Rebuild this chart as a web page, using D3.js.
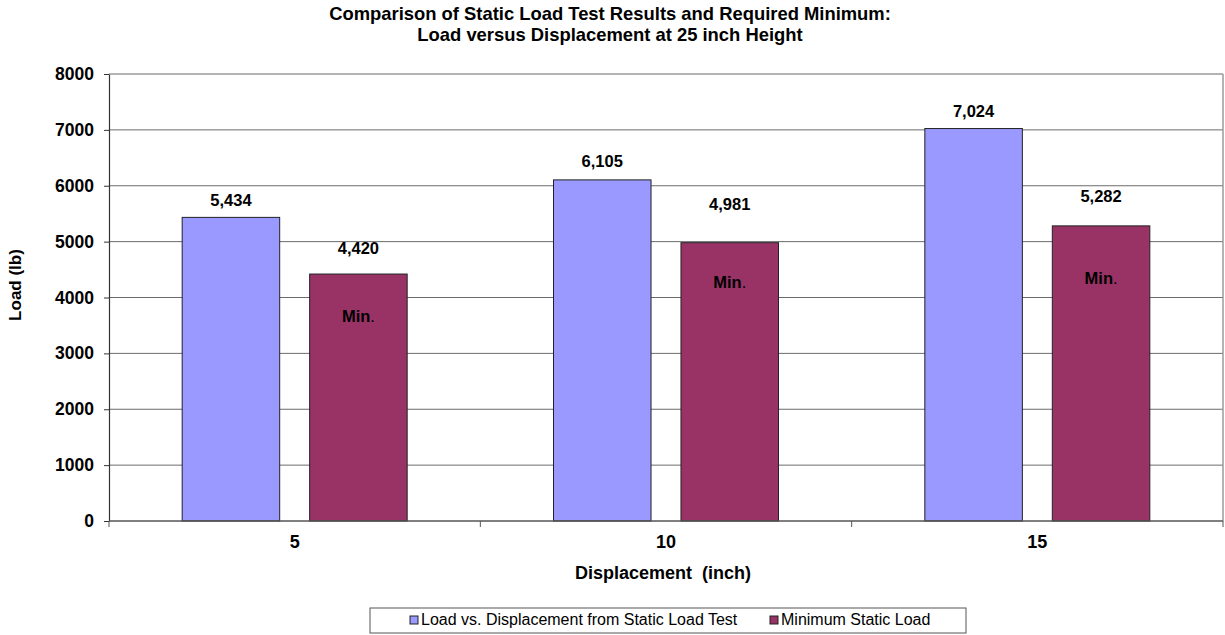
<!DOCTYPE html>
<html>
<head>
<meta charset="utf-8">
<script src="https://cdn.jsdelivr.net/npm/d3@7"></script>
<style>
  html, body { margin: 0; padding: 0; background: #fff; }
  svg { display: block; font-family: "Liberation Sans", Arial, sans-serif; }
</style>
</head>
<body>
<svg id="chart" width="1225" height="635"></svg>
<script>
// Displacement categories (inch)
const displacements = ["5", "10", "15"];
// Measured load from the static load test (lb)
const testLoads = [5434, 6105, 7024];
// Minimum required static load (lb)
const minLoads = [4420, 4981, 5282];
// Y axis ticks
const yTicks = [0, 1000, 2000, 3000, 4000, 5000, 6000, 7000, 8000];

const seriesNames = ["Load vs. Displacement from Static Load Test", "Minimum Static Load"];
const seriesColors = ["#9999FF", "#993366"];

const svg = d3.select("#chart");
const margin = { left: 109, right: 2, top: 74, bottom: 114 };
const W = 1225, H = 635;
const plotW = W - margin.left - margin.right;
const plotH = H - margin.top - margin.bottom;

const g = svg.append("g").attr("transform", `translate(${margin.left},${margin.top})`);

const x0 = d3.scaleBand().domain(displacements).range([0, plotW]).paddingInner(0).paddingOuter(0);
const x1 = d3.scaleBand().domain([0, 1]).range([0, x0.bandwidth()]).paddingInner(0.235).paddingOuter(0.574);
const y = d3.scaleLinear().domain([0, 8000]).range([plotH, 0]);

// Gridlines
g.append("g").selectAll("line").data(yTicks.filter(t => t > 0)).join("line")
  .attr("x1", 0).attr("x2", plotW)
  .attr("y1", d => y(d)).attr("y2", d => y(d))
  .attr("stroke", d => d === 8000 ? "#9a9a9a" : "#6b6b6b").attr("stroke-width", d => d === 8000 ? 1.5 : 1);

// Right border of the plot area
g.append("line").attr("x1", plotW).attr("x2", plotW).attr("y1", 0).attr("y2", plotH)
  .attr("stroke", "#9a9a9a").attr("stroke-width", 1.5);

// Bars
const rows = displacements.map((d, i) => ({ cat: d, vals: [testLoads[i], minLoads[i]] }));
const groups = g.selectAll("g.cat").data(rows).join("g").attr("class", "cat")
  .attr("transform", d => `translate(${x0(d.cat)},0)`);

groups.selectAll("rect").data(d => d.vals.map((v, s) => ({ v, s }))).join("rect")
  .attr("x", d => x1(d.s)).attr("width", x1.bandwidth())
  .attr("y", d => y(d.v)).attr("height", d => plotH - y(d.v))
  .attr("fill", d => seriesColors[d.s]).attr("stroke", "#222").attr("stroke-width", 1);

// Value labels; the minimum-load labels sit a little higher above their bars
const lift = [[16, 24], [17, 37], [16, 28]];
groups.each(function (row, ci) {
  const gg = d3.select(this);
  row.vals.forEach((v, s) => {
    gg.append("text")
      .attr("x", x1(s) + x1.bandwidth() / 2)
      .attr("y", y(v) - lift[ci][s])
      .attr("text-anchor", "middle").attr("dominant-baseline", "middle")
      .attr("font-size", 16.5).attr("font-weight", "bold").attr("fill", "#000")
      .text(d3.format(",")(v));
  });
});

// "Min." tags inside the minimum-load bars
const minTagDrop = [44, 41, 54];
groups.each(function (row, ci) {
  const t = d3.select(this).append("text")
    .attr("x", x1(1) + x1.bandwidth() / 2)
    .attr("y", y(row.vals[1]) + minTagDrop[ci])
    .attr("text-anchor", "middle").attr("dominant-baseline", "middle")
    .attr("font-size", 16.5).attr("fill", "#000");
  t.append("tspan").attr("font-weight", "bold").text("Min");
  t.append("tspan").attr("font-weight", "normal").text(".");
});

// Y axis
const yAxis = g.append("g").call(d3.axisLeft(y).tickValues(yTicks).tickFormat(d3.format("d"))
  .tickSize(5).tickSizeOuter(0).tickPadding(10));
yAxis.select(".domain").attr("stroke", "#333").attr("stroke-width", 1.2);
yAxis.selectAll(".tick line").attr("stroke", "#333");
yAxis.selectAll(".tick text").attr("font-size", 17.5).attr("font-weight", "bold").attr("fill", "#000")
  .attr("font-family", "Liberation Sans, Arial, sans-serif");

// X axis: ticks between categories
const xAxisG = g.append("g").attr("transform", `translate(0,${plotH})`);
xAxisG.append("line").attr("x1", 0).attr("x2", plotW).attr("stroke", "#555").attr("stroke-width", 1.5);
xAxisG.selectAll("line.sep").data(d3.range(displacements.length + 1)).join("line").attr("class", "sep")
  .attr("x1", i => i * x0.step()).attr("x2", i => i * x0.step())
  .attr("y1", 0).attr("y2", 6).attr("stroke", "#555");
xAxisG.selectAll("text").data(displacements).join("text")
  .attr("x", d => x0(d) + x0.bandwidth() / 2).attr("y", 22)
  .attr("text-anchor", "middle").attr("dominant-baseline", "middle")
  .attr("font-size", 18).attr("font-weight", "bold").text(d => d);

// Axis titles
svg.append("text").attr("x", 663).attr("y", 574)
  .attr("text-anchor", "middle").attr("dominant-baseline", "middle")
  .attr("font-size", 18).attr("font-weight", "bold").attr("xml:space", "preserve")
  .text("Displacement  (inch)");
svg.append("text").attr("transform", "translate(17,285) rotate(-90)")
  .attr("text-anchor", "middle").attr("dominant-baseline", "middle")
  .attr("font-size", 17).attr("font-weight", "bold").text("Load (lb)");

// Title
const title = svg.append("text").attr("text-anchor", "middle").attr("font-size", 18.4).attr("font-weight", "bold");
title.append("tspan").attr("x", 610).attr("y", 20).text("Comparison of Static Load Test Results and Required Minimum:");
title.append("tspan").attr("x", 610).attr("y", 41).text("Load versus Displacement at 25 inch Height");

// Legend
const leg = svg.append("g").attr("transform", "translate(370,608)");
leg.append("rect").attr("width", 596).attr("height", 25).attr("fill", "#fff").attr("stroke", "#555").attr("stroke-width", 1);
const legX = [40, 400];
seriesNames.forEach((name, i) => {
  leg.append("rect").attr("x", legX[i]).attr("y", 8).attr("width", 8).attr("height", 8)
    .attr("fill", seriesColors[i]).attr("stroke", "#222").attr("stroke-width", 1);
  leg.append("text").attr("x", legX[i] + 11).attr("y", 13).attr("dominant-baseline", "middle")
    .attr("font-size", 16).text(name);
});
</script>
</body>
</html>
